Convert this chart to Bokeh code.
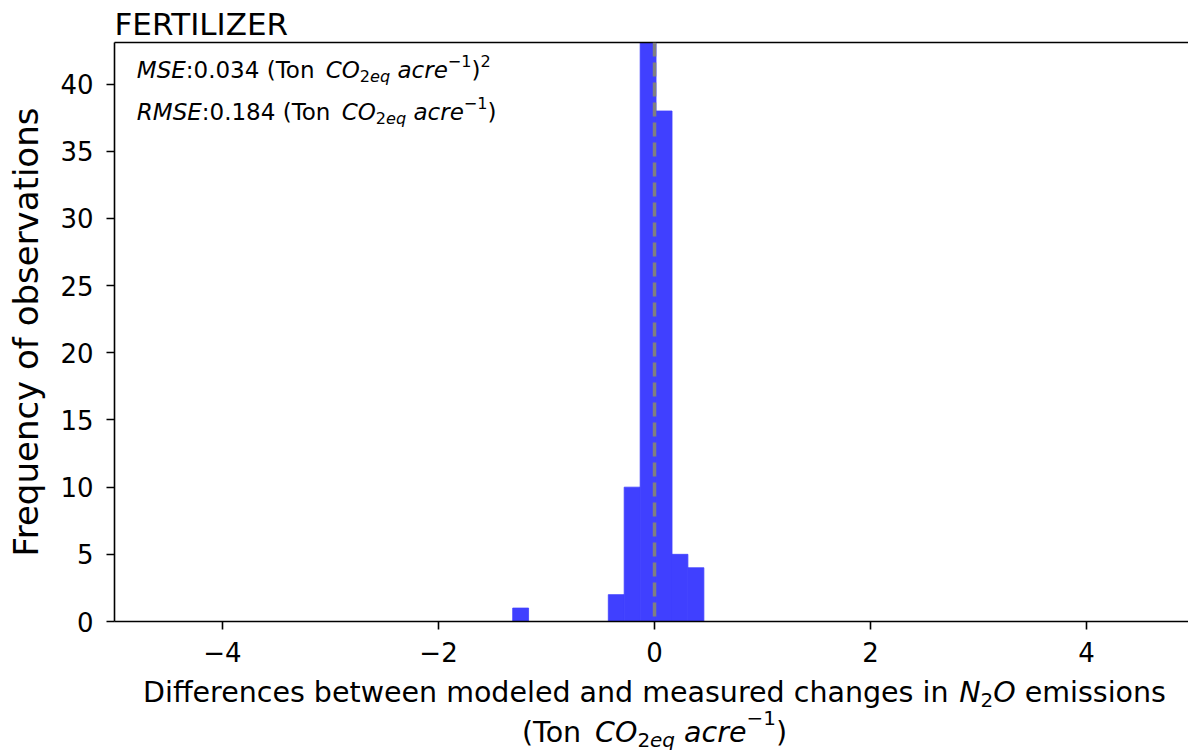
import math
from bokeh.plotting import figure
from bokeh.layouts import column
from bokeh.models import (Range1d, FixedTicker, LinearAxis, Label, Span,
                          CustomJSTickFormatter)
from bokeh.embed import file_html
from bokeh.resources import INLINE

# ---------------- data ----------------
bin_edges = [-1.313, -1.166, -1.018, -0.871, -0.723, -0.576, -0.428,
             -0.281, -0.133, 0.014, 0.162, 0.309, 0.457]
counts = [1, 0, 0, 0, 0, 0, 2, 10, 52, 38, 5, 4]
x_ticks = [-4, -2, 0, 2, 4]
y_ticks = [0, 5, 10, 15, 20, 25, 30, 35, 40]
title_text = "FERTILIZER"
y_label = "Frequency of observations"
mse_value = "0.034"
rmse_value = "0.184"
ref_line_x = 0.0

FONT = "DejaVu Sans"
W_PX = 1188
TITLE_H = 40
XL_H = 77
MAIN_H = 750 - TITLE_H - XL_H
MID = 0.36  # offset from alphabetic baseline to the "middle" anchor, in em


def text_panel(h):
    f = figure(width=W_PX, height=h, output_backend="svg", toolbar_location=None,
               x_range=Range1d(0, W_PX), y_range=Range1d(0, h),
               x_axis_type=None, y_axis_type=None, min_border=0)
    f.min_border_left = f.min_border_right = f.min_border_top = f.min_border_bottom = 0
    f.outline_line_color = None
    f.background_fill_color = "white"
    f.border_fill_color = "white"
    return f


# ---------------- main plot ----------------
p = figure(width=W_PX, height=MAIN_H, output_backend="svg", toolbar_location=None,
           x_range=Range1d(-5.0, 4.944), y_range=Range1d(0, 43.1),
           min_border_left=114, min_border_right=0, min_border_top=2,
           min_border_bottom=MAIN_H - (621 - TITLE_H))
p.background_fill_color = "white"
p.border_fill_color = "white"
p.outline_line_color = None
p.xgrid.visible = False
p.ygrid.visible = False

for ax in (p.xaxis[0], p.yaxis[0]):
    ax.axis_line_color = "black"
    ax.axis_line_width = 1.6
    ax.major_tick_line_color = "black"
    ax.major_tick_line_width = 1.6
    ax.major_tick_out = 8
    ax.major_tick_in = 0
    ax.minor_tick_line_color = None
    ax.minor_tick_out = 0
    ax.major_label_text_font = FONT
    ax.major_label_text_font_size = "26px"
    ax.major_label_text_color = "black"
    ax.formatter = CustomJSTickFormatter(
        code="return tick < 0 ? '\u2212' + Math.abs(tick) : String(tick);")

p.xaxis.ticker = FixedTicker(ticks=x_ticks)
p.yaxis.ticker = FixedTicker(ticks=y_ticks)
p.xaxis.major_label_standoff = 12
p.yaxis.major_label_standoff = 13

p.yaxis.axis_label = y_label
p.yaxis.axis_label_text_font = FONT
p.yaxis.axis_label_text_font_size = "34px"
p.yaxis.axis_label_text_font_style = "normal"
p.yaxis.axis_label_text_color = "black"
p.yaxis.axis_label_standoff = 11

top_axis = LinearAxis(axis_line_color="black", axis_line_width=1.6,
                      ticker=FixedTicker(ticks=[]),
                      major_tick_line_color=None, minor_tick_line_color=None,
                      major_tick_out=0, minor_tick_out=0, major_label_standoff=0)
p.add_layout(top_axis, "above")

nz = [i for i, c in enumerate(counts) if c > 0]
p.quad(left=[bin_edges[i] for i in nz], right=[bin_edges[i + 1] for i in nz],
       bottom=0, top=[counts[i] for i in nz],
       fill_color="#4040ff", line_color="#4040ff", line_width=0.8)

p.add_layout(Span(location=ref_line_x, dimension="height", line_color="#808080",
                  line_width=3.5, line_dash="14 6"))

W = {'M': 0.863, 'S': 0.635, 'E': 0.632, 'R': 0.695, ':': 0.337, '.': 0.318,
     ' ': 0.318, '(': 0.390, ')': 0.390, 'T': 0.611, 'o': 0.612, 'n': 0.634,
     'C': 0.698, 'O': 0.787, 'e': 0.615, 'q': 0.635, 'a': 0.613, 'c': 0.550,
     'r': 0.411, '\u2212': 0.838, 'D': 0.770, 'i': 0.278, 'f': 0.352,
     's': 0.521, 'b': 0.635, 't': 0.392, 'w': 0.818, 'm': 0.974, 'd': 0.635,
     'l': 0.278, 'u': 0.634, 'h': 0.634, 'g': 0.635, 'N': 0.748}
for d in "0123456789":
    W[d] = 0.636


def tw(s):
    return sum(W.get(ch, 0.6) for ch in s)


def rich(fig, segs, x0, y0, fs, k=1.0, align="left", sup=0.5, sub=0.16):
    """Lay out mixed-style text pieces; y0 is the alphabetic baseline (frame screen units)."""
    def size_of(kind):
        return fs * 0.7 if kind != "n" else fs
    total = sum(tw(t) * size_of(kind) * k for t, _, kind in segs)
    x = x0 - total / 2 if align == "center" else x0
    for text, italic, kind in segs:
        size = size_of(kind)
        dy = {"n": 0.0, "sub": -sub * fs, "sup": sup * fs}[kind]
        stripped = text.lstrip(" ")
        lead = tw(text[:len(text) - len(stripped)]) * size * k
        body = stripped.rstrip(" ")
        if body:
            fig.add_layout(Label(x=x + lead, y=y0 + dy + MID * size,
                                 x_units="screen", y_units="screen",
                                 text=body, text_font=FONT,
                                 text_font_size=f"{size:.2f}px",
                                 text_font_style="italic" if italic else "normal",
                                 text_color="black", text_baseline="middle",
                                 text_align="left"))
        x += tw(text) * size * k


# annotations inside the frame (baselines at 78 and 120 px from the top)
rich(p, [("MSE", True, "n"), (":" + mse_value + " (Ton ", False, "n"), ("CO", True, "n"),
         ("2", False, "sub"), ("eq", True, "sub"), (" ", False, "n"), ("acre", True, "n"),
         ("\u22121", False, "sup"), (")", False, "n"), ("2", False, "sup")],
     22.3, 621 - 78, 23)
rich(p, [("RMSE", True, "n"), (":" + rmse_value + " (Ton ", False, "n"), ("CO", True, "n"),
         ("2", False, "sub"), ("eq", True, "sub"), (" ", False, "n"), ("acre", True, "n"),
         ("\u22121", False, "sup"), (")", False, "n")],
     22.3, 621 - 120, 23)

# title panel
tf = text_panel(TITLE_H)
tf.add_layout(Label(x=0, y=(TITLE_H - 35) + MID * 31, x_units="screen", y_units="screen",
                    text=title_text, text_font=FONT, text_font_size="31px",
                    text_color="black", text_baseline="middle", text_align="left"))

# x-label panel (frame aligned with the main frame: starts at x=114)
xl = text_panel(XL_H)
rich(xl, [("Differences between modeled and measured changes in ", False, "n"),
          ("N", True, "n"), ("2", False, "sub"), ("O", True, "n"),
          (" emissions", False, "n")],
     654 - 114, 750 - 702, 28.5, align="center")
rich(xl, [("(Ton ", False, "n"), ("CO", True, "n"), ("2", False, "sub"), ("eq", True, "sub"),
          (" ", False, "n"), ("acre", True, "n"), ("\u22121", False, "sup"), (")", False, "n")],
     654 - 114, 750 - 742, 28.5, align="center", sup=0.6)

layout = column(tf, p, xl, spacing=0)
open("out.html", "w").write(file_html(layout, INLINE))
